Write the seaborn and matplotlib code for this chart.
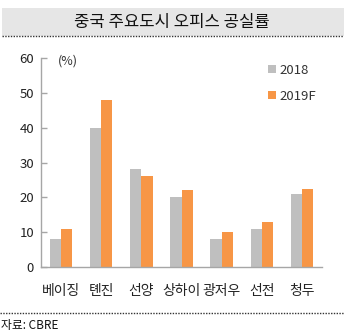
import matplotlib
matplotlib.use("Agg")
import matplotlib.pyplot as plt
import seaborn as sns
import pandas as pd
from matplotlib.patches import Rectangle
from matplotlib.lines import Line2D

cities = ["베이징", "톈진", "선양", "상하이", "광저우", "선전", "청두"]
v2018 = [8, 40, 28, 20, 8, 11, 21]
v2019 = [11, 48, 26, 22, 10, 13, 22.5]
series = ["2018", "2019F"]
yticks = [0, 10, 20, 30, 40, 50, 60]
title = "중국 주요도시 오피스 공실률"
source = "자료: CBRE"

df = pd.DataFrame({
    "city": cities * 2,
    "value": v2018 + v2019,
    "series": [series[0]] * len(cities) + [series[1]] * len(cities),
})

sns.set_theme(style="white")
plt.rcParams["font.family"] = ["Noto Sans CJK KR", "DejaVu Sans"]

W, H = 344, 333
fig = plt.figure(figsize=(W / 100, H / 100), dpi=100)
ax = fig.add_axes([41 / W, (H - 267) / H, (322 - 41) / W, (267 - 58) / H])

sns.barplot(data=df, x="city", y="value", hue="series",
            palette=["#bfbfbf", "#f79646"], width=0.56, ax=ax,
            saturation=1, edgecolor="none", linewidth=0)

ax.set_xlim(-0.5, 6.5)
ax.set_ylim(0, 60)
ax.set_yticks(yticks)
ax.set_xlabel("")
ax.set_ylabel("")
axc = "#a6a6a6"
for s in ["top", "right"]:
    ax.spines[s].set_visible(False)
for s in ["left", "bottom"]:
    ax.spines[s].set_color(axc)
    ax.spines[s].set_linewidth(1.0)
ax.tick_params(axis="y", direction="in", length=4, color=axc, width=1,
               labelsize=9.5, labelcolor="#222222", pad=5, left=True)
ax.tick_params(axis="x", length=0, labelsize=10, labelcolor="#222222", pad=12)

ax.text(0.06, 0.985, "(%)", transform=ax.transAxes, fontsize=9,
        color="#333333", va="center", ha="left")

leg = ax.legend(loc="upper right", bbox_to_anchor=(1.02, 1.03), frameon=False,
                fontsize=9.5, handlelength=0.6, handleheight=0.6,
                handletextpad=0.2, labelspacing=1.0)
for t in leg.get_texts():
    t.set_color("#333333")

# title band
fig.patches.append(Rectangle((2 / W, (H - 36) / H), (W - 2) / W, 28 / H,
                             transform=fig.transFigure, facecolor="#e6e6e6",
                             edgecolor="none", zorder=0))
fig.lines.append(Line2D([2 / W, 1], [(H - 36) / H] * 2, transform=fig.transFigure,
                        color="#333333", linestyle=(0, (1, 1)), linewidth=1))
fig.text(172 / W, (H - 22) / H, title, ha="center", va="center",
         fontsize=12, color="#111111")

fig.lines.append(Line2D([0, 1], [(H - 313) / H] * 2, transform=fig.transFigure,
                        color="#333333", linestyle=(0, (1, 1)), linewidth=1))
fig.text(1 / W, (H - 325) / H, source, ha="left", va="center",
         fontsize=8.5, color="#111111")

fig.savefig("out.png", dpi=100)
